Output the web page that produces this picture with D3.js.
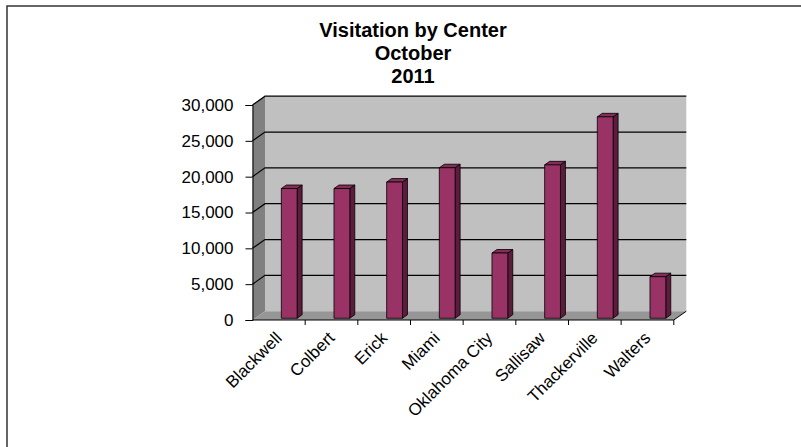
<!DOCTYPE html>
<html>
<head>
<meta charset="utf-8">
<script src="https://cdn.jsdelivr.net/npm/d3@7"></script>
<style>
  html, body { margin: 0; padding: 0; background: #fff; }
  svg { display: block; }
  text { font-family: "Liberation Sans", Arial, sans-serif; fill: #000; }
</style>
</head>
<body>
<svg id="chart" width="801" height="447"></svg>
<script>
const titleLines = ["Visitation by Center", "October", "2011"];
const categories = ["Blackwell", "Colbert", "Erick", "Miami", "Oklahoma City", "Sallisaw", "Thackerville", "Walters"];
const visits = [18100, 18100, 19000, 21000, 9100, 21400, 28100, 5800];
const yTicks = [0, 5000, 10000, 15000, 20000, 25000, 30000];

const svg = d3.select("#chart");
const W = 801, H = 447;

// frame
svg.append("rect").attr("x", 7).attr("y", 6).attr("width", W + 20).attr("height", H + 20)
  .attr("fill", "#fff").attr("stroke", "#333").attr("stroke-width", 1.5);

// title
const title = svg.append("text").attr("text-anchor", "middle")
  .style("font-size", "20px").style("font-weight", "bold");
titleLines.forEach((t, i) => {
  title.append("tspan").attr("x", 413).attr("y", 37 + i * 23).text(t);
});

// geometry (front plane)
const x0 = 252.5, x1 = 673.8, yBase = 320, yTop = 105;
const D = [12.5, -8.8];   // depth vector
const x = d3.scaleBand().domain(categories).range([x0, x1]).padding(0);
const y = d3.scaleLinear().domain([0, 30000]).range([yBase, yTop]);
const P = (xx, v, f) => [xx + f * D[0], y(v) + f * D[1]];
const poly = pts => pts.map(p => p.join(",")).join(" ");

const g = svg.append("g");

// back wall
g.append("polygon")
  .attr("points", poly([P(x0, 0, 1), P(x1, 0, 1), P(x1, 30000, 1), P(x0, 30000, 1)]))
  .attr("fill", "#c0c0c0");
// left side wall
g.append("polygon")
  .attr("points", poly([P(x0, 0, 0), P(x0, 0, 1), P(x0, 30000, 1), P(x0, 30000, 0)]))
  .attr("fill", "#808080");
// floor
g.append("polygon")
  .attr("points", poly([P(x0, 0, 0), P(x0, 0, 1), P(x1, 0, 1), P(x1, 0, 0)]))
  .attr("fill", "#969696");
g.append("polyline")
  .attr("points", poly([P(x0, 0, 0), P(x1, 0, 0), P(x1, 0, 1)]))
  .attr("fill", "none").attr("stroke", "#000").attr("stroke-width", 1);

// gridlines
yTicks.filter(v => v > 0).forEach(v => {
  g.append("polyline")
    .attr("points", poly([P(x0, v, 0), P(x0, v, 1), P(x1, v, 1)]))
    .attr("fill", "none").attr("stroke", "#000").attr("stroke-width", 1.2);
});

// value axis
const yAxis = d3.axisLeft(y).tickValues(yTicks).tickFormat(d3.format(","))
  .tickSize(7).tickPadding(12);
const ya = svg.append("g").attr("transform", `translate(${x0},0)`).call(yAxis);
ya.select(".domain").attr("stroke", "#000");
ya.selectAll("text").style("font-size", "17px").style("font-family", '"Liberation Sans", Arial, sans-serif');

// category ticks
g.selectAll("line.ctick").data(categories).enter().append("line")
  .attr("class", "ctick")
  .attr("x1", d => x(d) + x.bandwidth()).attr("x2", d => x(d) + x.bandwidth())
  .attr("y1", yBase).attr("y2", yBase + 5)
  .attr("stroke", "#000");

// bars
const f0 = 0.2, f1 = 0.6;
const bars = g.selectAll("g.bar").data(categories.map((c, i) => ({c, v: visits[i]})))
  .enter().append("g").attr("class", "bar");
const bx = d => x(d.c) + x.bandwidth() * 0.5;
const bw = x.bandwidth() * 0.3;
bars.append("polygon")
  .attr("points", d => poly([P(bx(d) + bw, d.v, f0), P(bx(d) + bw, d.v, f1), P(bx(d) + bw, 0, f1), P(bx(d) + bw, 0, f0)]))
  .attr("fill", "#5e1c3d").attr("stroke", "#000").attr("stroke-width", 0.8).attr("stroke-linejoin", "round");
bars.append("polygon")
  .attr("points", d => poly([P(bx(d), d.v, f0), P(bx(d), d.v, f1), P(bx(d) + bw, d.v, f1), P(bx(d) + bw, d.v, f0)]))
  .attr("fill", "#862c59").attr("stroke", "#000").attr("stroke-width", 0.8).attr("stroke-linejoin", "round");
bars.append("polygon")
  .attr("points", d => poly([P(bx(d), d.v, f0), P(bx(d) + bw, d.v, f0), P(bx(d) + bw, 0, f0), P(bx(d), 0, f0)]))
  .attr("fill", "#993366").attr("stroke", "#000").attr("stroke-width", 0.8).attr("stroke-linejoin", "round");

// category labels
svg.selectAll("text.cat").data(categories).enter().append("text")
  .attr("class", "cat")
  .attr("text-anchor", "end")
  .style("font-size", "17px")
  .attr("transform", d => `translate(${x(d) + x.bandwidth() / 2 + 4},${yBase + 19}) rotate(-45)`)
  .text(d => d);
</script>
</body>
</html>
